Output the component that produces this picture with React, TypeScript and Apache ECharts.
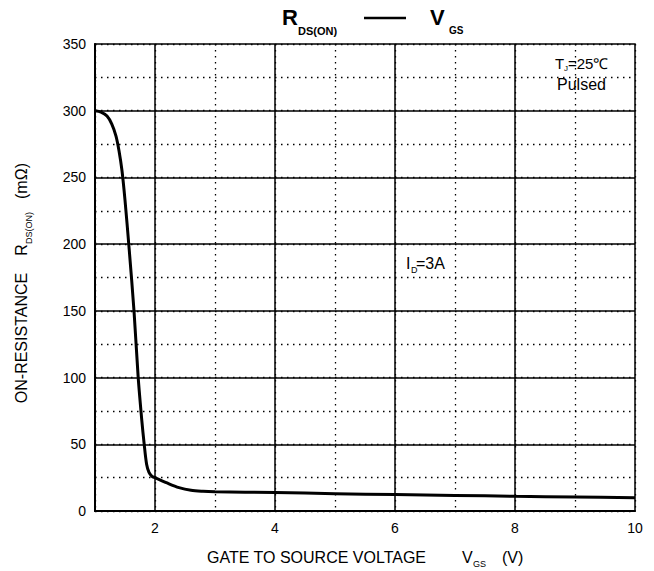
import React, { useEffect, useRef } from "react";
import * as echarts from "echarts";

// Gate-source voltage (V) and on-resistance (mΩ)
const vgs = [1, 1.1, 1.2, 1.28, 1.35, 1.4, 1.45, 1.5, 1.57, 1.65, 1.72, 1.78, 1.82, 1.86, 1.9, 1.95, 2.0, 2.2, 2.4, 2.6, 2.8, 3, 4, 5, 6, 7, 8, 9, 10];
const rdsOn = [300, 299, 296, 290, 281, 270, 255, 233, 196, 150, 100, 68, 50, 35, 29, 26, 25, 21, 17.5, 15.5, 14.8, 14.5, 13.8, 13, 12.3, 11.7, 11, 10.5, 10];

// Axis ranges and grid lines
const xRange = [1, 10];
const yRange = [0, 350];
const xStep = 1;
const yStep = 25;
const solidX = [2, 4, 6, 8];
const solidY = [50, 100, 150, 200, 250, 300];
const xLabelEvery = 2;
const yLabelEvery = 50;

const FONT = '"Liberation Sans", Arial, sans-serif';

export default function App() {
  const ref = useRef<HTMLDivElement>(null);
  useEffect(() => {
    document.body.style.margin = "0";
    const chart = echarts.init(ref.current!, null, { renderer: "svg" });
    const txt = (text: string, x: number, y: number, size: number, opts: any = {}) => ({
      type: "text",
      x,
      y,
      rotation: opts.rotation || 0,
      style: {
        text,
        font: `${opts.bold ? "bold " : ""}${size}px ${FONT}`,
        fill: "#000",
        textAlign: opts.align || "left",
        textVerticalAlign: "middle",
      },
      z: 10,
    });
    const R = Math.PI / 2;
    chart.setOption({
      animation: false,
      backgroundColor: "#fff",
      grid: {
        left: 95,
        right: 19,
        top: 44,
        bottom: 60,
        show: true,
        borderColor: "#000",
        borderWidth: 1.5,
        backgroundColor: "transparent",
      },
      xAxis: {
        type: "value",
        min: xRange[0],
        max: xRange[1],
        interval: xStep,
        axisLine: { show: true, lineStyle: { color: "#000", width: 2 } },
        axisTick: { show: false },
        axisLabel: {
          color: "#000",
          fontSize: 14,
          fontFamily: FONT,
          margin: 10,
          formatter: (v: number) => (v % xLabelEvery === 0 ? String(v) : ""),
        },
        splitLine: { show: true, lineStyle: { color: "#000", width: 1.3, type: [1.5, 4.5] } },
      },
      yAxis: {
        type: "value",
        min: yRange[0],
        max: yRange[1],
        interval: yStep,
        axisLine: { show: true, lineStyle: { color: "#000", width: 2 } },
        axisTick: { show: false },
        axisLabel: {
          color: "#000",
          fontSize: 14,
          fontFamily: FONT,
          margin: 9,
          formatter: (v: number) => (v % yLabelEvery === 0 ? String(v) : ""),
        },
        splitLine: { show: true, lineStyle: { color: "#000", width: 1.3, type: [1.5, 4.5] } },
      },
      series: [
        {
          type: "line",
          data: [],
          z: 1,
          silent: true,
          markLine: {
            silent: true,
            symbol: ["none", "none"],
            label: { show: false },
            lineStyle: { color: "#000", width: 1.5, type: "solid" },
            data: [
              ...solidX.map((v) => ({ xAxis: v })),
              ...solidY.map((v) => ({ yAxis: v })),
            ],
          },
        },
        {
          type: "line",
          data: vgs.map((v, i) => [v, rdsOn[i]]),
          showSymbol: false,
          smooth: 0.3,
          z: 5,
          lineStyle: { color: "#000", width: 3 },
        },
      ],
      graphic: [
        // Title
        txt("R", 282, 17, 22, { bold: true }),
        txt("DS(ON)", 298, 31, 11, { bold: true }),
        { type: "line", shape: { x1: 364, y1: 18, x2: 406, y2: 18 }, style: { stroke: "#000", lineWidth: 2.5 }, z: 10 },
        txt("V", 430, 17, 22, { bold: true }),
        txt("GS", 449, 30, 10, { bold: true }),
        // Conditions
        txt("T", 555, 63, 15),
        txt("J", 564, 68, 8),
        txt("=25℃", 568, 63, 15),
        txt("Pulsed", 557, 84, 16),
        txt("I", 406, 263, 16),
        txt("D", 411, 270, 9),
        txt("=3A", 416, 263, 16),
        // X axis name
        txt("GATE TO SOURCE VOLTAGE", 207, 557, 16),
        txt("V", 462, 557, 16),
        txt("GS", 473, 564, 9),
        txt("(V)", 502, 557, 16),
        // Y axis name (rotated)
        txt("ON-RESISTANCE", 21, 338, 16, { rotation: R, align: "center" }),
        txt("R", 21, 250, 16, { rotation: R, align: "center" }),
        txt("DS(ON)", 29, 228, 9, { rotation: R, align: "center" }),
        txt("(mΩ)", 21, 181, 16, { rotation: R, align: "center" }),
      ],
    });
    return () => chart.dispose();
  }, []);
  return <div ref={ref} style={{ width: 654, height: 571 }} />;
}
